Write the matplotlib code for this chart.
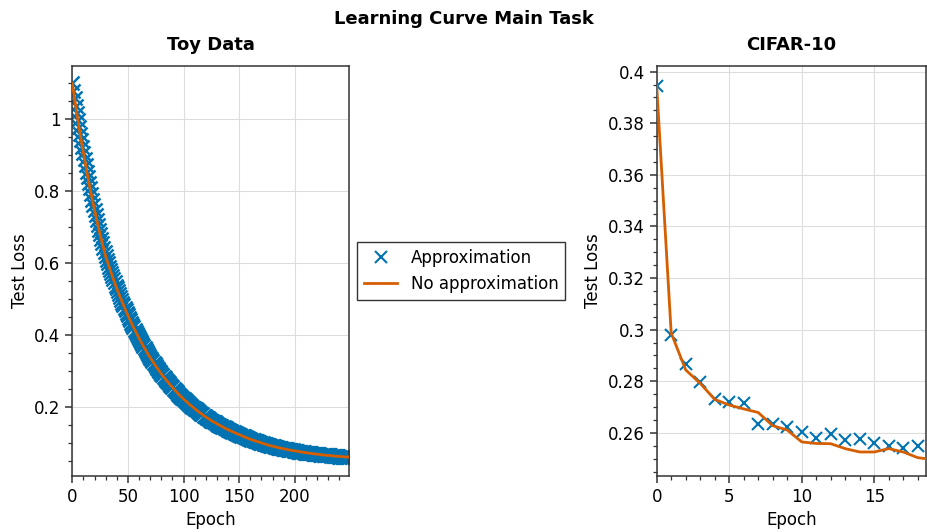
import matplotlib
matplotlib.use("Agg")
import matplotlib.pyplot as plt
from matplotlib.ticker import MultipleLocator, FormatStrFormatter

# ---------------- data ----------------
toy_epochs = list(range(250))
toy_no_approx = [
    1.100, 1.079, 1.058, 1.038, 1.018, 0.998, 0.979, 0.960, 0.942, 0.924,
    0.906, 0.889, 0.872, 0.855, 0.839, 0.823, 0.808, 0.792, 0.777, 0.763,
    0.748, 0.734, 0.720, 0.707, 0.693, 0.680, 0.668, 0.655, 0.643, 0.631,
    0.619, 0.610, 0.600, 0.591, 0.582, 0.573, 0.564, 0.555, 0.547, 0.538,
    0.530, 0.522, 0.514, 0.506, 0.499, 0.491, 0.484, 0.476, 0.469, 0.462,
    0.455, 0.448, 0.442, 0.435, 0.428, 0.422, 0.416, 0.410, 0.404, 0.398,
    0.392, 0.386, 0.380, 0.375, 0.369, 0.364, 0.359, 0.353, 0.348, 0.343,
    0.338, 0.333, 0.329, 0.324, 0.319, 0.315, 0.310, 0.306, 0.302, 0.297,
    0.293, 0.289, 0.285, 0.281, 0.277, 0.273, 0.270, 0.266, 0.262, 0.259,
    0.255, 0.252, 0.248, 0.245, 0.242, 0.238, 0.235, 0.232, 0.229, 0.226,
    0.223, 0.220, 0.217, 0.215, 0.212, 0.209, 0.206, 0.204, 0.201, 0.199,
    0.196, 0.194, 0.191, 0.189, 0.186, 0.184, 0.182, 0.180, 0.177, 0.175,
    0.173, 0.171, 0.169, 0.167, 0.165, 0.163, 0.161, 0.159, 0.158, 0.156,
    0.154, 0.152, 0.151, 0.149, 0.147, 0.146, 0.144, 0.142, 0.141, 0.139,
    0.138, 0.136, 0.135, 0.133, 0.132, 0.131, 0.129, 0.128, 0.127, 0.125,
    0.124, 0.123, 0.121, 0.120, 0.119, 0.117, 0.116, 0.115, 0.114, 0.112,
    0.111, 0.110, 0.109, 0.108, 0.107, 0.106, 0.105, 0.104, 0.103, 0.102,
    0.101, 0.100, 0.099, 0.098, 0.097, 0.096, 0.095, 0.094, 0.093, 0.093,
    0.092, 0.091, 0.090, 0.090, 0.089, 0.088, 0.087, 0.087, 0.086, 0.085,
    0.085, 0.084, 0.083, 0.083, 0.082, 0.081, 0.081, 0.080, 0.080, 0.079,
    0.079, 0.078, 0.078, 0.077, 0.077, 0.076, 0.076, 0.075, 0.075, 0.074,
    0.074, 0.073, 0.073, 0.072, 0.072, 0.072, 0.071, 0.071, 0.070, 0.070,
    0.070, 0.069, 0.069, 0.068, 0.068, 0.068, 0.067, 0.067, 0.067, 0.066,
    0.066, 0.066, 0.066, 0.065, 0.065, 0.065, 0.064, 0.064, 0.064, 0.064,
    0.063, 0.063, 0.063, 0.063, 0.062, 0.062, 0.062, 0.062, 0.062, 0.061,
]
toy_approx = [
    1.100, 1.079, 1.058, 1.038, 1.018, 0.998, 0.979, 0.960, 0.942, 0.924,
    0.906, 0.889, 0.872, 0.855, 0.839, 0.823, 0.808, 0.792, 0.777, 0.763,
    0.748, 0.734, 0.720, 0.707, 0.693, 0.680, 0.668, 0.655, 0.643, 0.631,
    0.619, 0.610, 0.600, 0.591, 0.582, 0.573, 0.564, 0.555, 0.547, 0.538,
    0.530, 0.522, 0.514, 0.506, 0.499, 0.491, 0.484, 0.476, 0.469, 0.462,
    0.455, 0.448, 0.442, 0.435, 0.428, 0.422, 0.416, 0.410, 0.404, 0.398,
    0.392, 0.386, 0.380, 0.375, 0.369, 0.364, 0.359, 0.353, 0.348, 0.343,
    0.338, 0.333, 0.329, 0.324, 0.319, 0.315, 0.310, 0.306, 0.302, 0.297,
    0.293, 0.289, 0.285, 0.281, 0.277, 0.273, 0.270, 0.266, 0.262, 0.259,
    0.255, 0.252, 0.248, 0.245, 0.242, 0.238, 0.235, 0.232, 0.229, 0.226,
    0.223, 0.220, 0.217, 0.215, 0.212, 0.209, 0.206, 0.204, 0.201, 0.199,
    0.196, 0.194, 0.191, 0.189, 0.186, 0.184, 0.182, 0.180, 0.177, 0.175,
    0.173, 0.171, 0.169, 0.167, 0.165, 0.163, 0.161, 0.159, 0.158, 0.156,
    0.154, 0.152, 0.151, 0.149, 0.147, 0.146, 0.144, 0.142, 0.141, 0.139,
    0.138, 0.136, 0.135, 0.133, 0.132, 0.131, 0.129, 0.128, 0.127, 0.125,
    0.124, 0.123, 0.121, 0.120, 0.119, 0.117, 0.116, 0.115, 0.114, 0.112,
    0.111, 0.110, 0.109, 0.108, 0.107, 0.106, 0.105, 0.104, 0.103, 0.102,
    0.101, 0.100, 0.099, 0.098, 0.097, 0.096, 0.095, 0.094, 0.093, 0.093,
    0.092, 0.091, 0.090, 0.090, 0.089, 0.088, 0.087, 0.087, 0.086, 0.085,
    0.085, 0.084, 0.083, 0.083, 0.082, 0.081, 0.081, 0.080, 0.080, 0.079,
    0.079, 0.078, 0.078, 0.077, 0.077, 0.076, 0.076, 0.075, 0.075, 0.074,
    0.074, 0.073, 0.073, 0.072, 0.072, 0.072, 0.071, 0.071, 0.070, 0.070,
    0.070, 0.069, 0.069, 0.068, 0.068, 0.068, 0.067, 0.067, 0.067, 0.066,
    0.066, 0.066, 0.066, 0.065, 0.065, 0.065, 0.064, 0.064, 0.064, 0.064,
    0.063, 0.063, 0.063, 0.063, 0.062, 0.062, 0.062, 0.062, 0.062, 0.061,
]

cifar_epochs_approx = list(range(19))
cifar_approx = [0.3945, 0.2980, 0.2866, 0.2799, 0.2732, 0.2721, 0.2714, 0.2633,
                0.2634, 0.2621, 0.2604, 0.2581, 0.2595, 0.2572, 0.2576, 0.2559,
                0.2550, 0.2543, 0.2549]
cifar_epochs_no = list(range(20))
cifar_no_approx = [0.3946, 0.2987, 0.2844, 0.2792, 0.2730, 0.2708, 0.2693, 0.2679,
                   0.2628, 0.2611, 0.2565, 0.2559, 0.2558, 0.2539, 0.2526, 0.2526,
                   0.2539, 0.2526, 0.2504, 0.2497]

title = "Learning Curve Main Task"
panel_titles = ["Toy Data", "CIFAR-10"]
legend_labels = ["Approximation", "No approximation"]

# ---------------- style ----------------
BLUE = "#0173b2"
ORANGE = "#d55e00"
SPINE = "#333333"
plt.rcParams["font.family"] = ["DejaVu Sans"]
plt.rcParams["font.size"] = 12

fig = plt.figure(figsize=(9.27, 5.32), dpi=100)
ax1 = fig.add_axes([0.0780, 0.1053, 0.2988, 0.7712])
ax2 = fig.add_axes([0.7084, 0.1053, 0.2910, 0.7712])


def style(ax):
    for s in ax.spines.values():
        s.set_color(SPINE)
        s.set_linewidth(1.1)
    ax.tick_params(which="major", direction="out", length=5, width=1.1,
                   color=SPINE, labelsize=12, top=False, right=False)
    ax.tick_params(which="minor", direction="out", length=3, width=0.9,
                   color=SPINE, top=False, right=False)
    ax.grid(True, which="major", color="#dddddd", linewidth=0.8)
    ax.set_axisbelow(True)


# Toy data
ax1.plot(toy_epochs, toy_approx, linestyle="none", marker="x", ms=9.5, mew=1.8,
         color=BLUE, label=legend_labels[0], zorder=2)
ax1.plot(toy_epochs, toy_no_approx, color=ORANGE, lw=2.0,
         label=legend_labels[1], zorder=3)
ax1.set_xlim(0, 249)
ax1.set_ylim(0.009, 1.149)
ax1.xaxis.set_major_locator(MultipleLocator(50))
ax1.xaxis.set_minor_locator(MultipleLocator(10))
ax1.yaxis.set_major_locator(MultipleLocator(0.2))
ax1.yaxis.set_minor_locator(MultipleLocator(0.05))
ax1.yaxis.set_major_formatter(FormatStrFormatter("%g"))
ax1.set_xlabel("Epoch", fontsize=12)
ax1.set_ylabel("Test Loss", fontsize=12)
ax1.set_title(panel_titles[0], fontsize=13, fontweight="bold", pad=11)
style(ax1)

# CIFAR-10
ax2.plot(cifar_epochs_approx, cifar_approx, linestyle="none", marker="x", ms=8.5,
         mew=1.5, color=BLUE, zorder=2)
ax2.plot(cifar_epochs_no, cifar_no_approx, color=ORANGE, lw=2.0, zorder=3)
ax2.set_xlim(0, 18.6)
ax2.set_ylim(0.2433, 0.4023)
ax2.xaxis.set_major_locator(MultipleLocator(5))
ax2.xaxis.set_minor_locator(MultipleLocator(1))
ax2.yaxis.set_major_locator(MultipleLocator(0.02))
ax2.yaxis.set_minor_locator(MultipleLocator(0.005))
ax2.yaxis.set_major_formatter(FormatStrFormatter("%g"))
ax2.set_xlabel("Epoch", fontsize=12)
ax2.set_ylabel("Test Loss", fontsize=12)
ax2.set_title(panel_titles[1], fontsize=13, fontweight="bold", pad=11)
style(ax2)

handles, labels = ax1.get_legend_handles_labels()
leg = fig.legend(handles, labels, loc="center", bbox_to_anchor=(0.4975, 0.4906),
                 fontsize=12, frameon=True, fancybox=False, framealpha=1.0,
                 borderpad=0.4, handlelength=2.0)
leg.get_frame().set_edgecolor(SPINE)
leg.get_frame().set_linewidth(1.0)
for h in leg.legend_handles:
    if h.get_marker() == "x":
        h.set_markersize(8.5)
        h.set_markeredgewidth(1.5)

fig.suptitle(title, fontsize=13, fontweight="bold", y=0.982)

fig.savefig("out.png", dpi=100)
